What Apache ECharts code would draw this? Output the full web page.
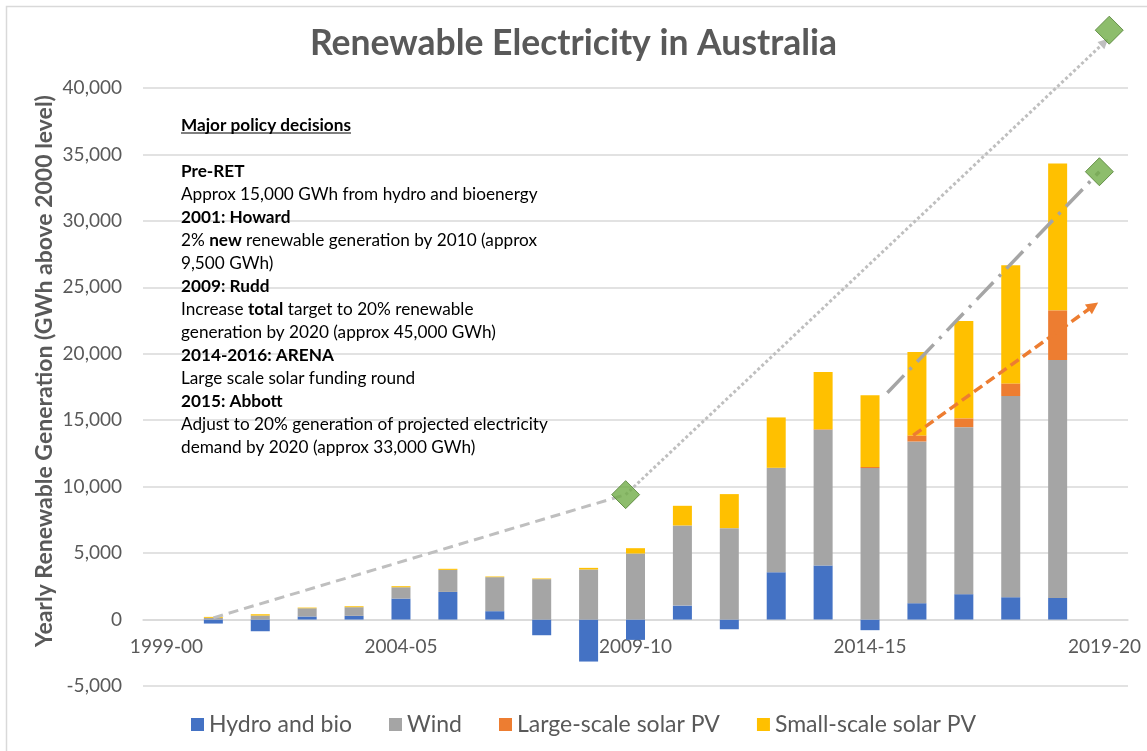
<!DOCTYPE html>
<html>
<head>
<meta charset="utf-8">
<title>Renewable Electricity in Australia</title>
<script src="https://cdn.jsdelivr.net/npm/echarts@6/dist/echarts.min.js"></script>
<style>
  html, body { margin: 0; padding: 0; background: #ffffff; }
  #chart { width: 1147px; height: 751px; }
</style>
</head>
<body>
<div id="chart"></div>
<script>
// Financial years on the category axis
const years = ['1999-00', '2000-01', '2001-02', '2002-03', '2003-04', '2004-05', '2005-06',
  '2006-07', '2007-08', '2008-09', '2009-10', '2010-11', '2011-12', '2012-13', '2013-14',
  '2014-15', '2015-16', '2016-17', '2017-18', '2018-19', '2019-20'];

// Generation above the 2000 level, GWh
const hydroBio   = [0, -300, -880, 230, 280, 1580, 2080, 630, -1180, -3160, -1530, 1050, -730, 3560, 4070, -800, 1230, 1910, 1680, 1630, null];
const wind       = [0, 130, 300, 620, 650, 850, 1660, 2560, 3040, 3770, 4970, 6030, 6880, 7860, 10210, 11400, 12170, 12570, 15140, 17900, null];
const largeSolar = [0, 0, 0, 0, 0, 0, 0, 0, 0, 0, 0, 0, 0, 0, 40, 80, 455, 660, 950, 3740, null];
const smallSolar = [0, 70, 100, 50, 70, 80, 80, 50, 50, 120, 400, 1480, 2560, 3790, 4300, 5390, 6275, 7320, 8890, 11040, null];

// Value axis ticks
const yMin = -5000, yMax = 40000, yStep = 5000;

// Policy targets: position along the year axis (0 = 1999-00) and level in GWh
const targetPos = [9.79, 20.10, 19.89];
const targetGWh = [9400, 44350, 33700];

// Target trajectories: [fromPos, fromGWh, toPos, toGWh]
const howardPath = [1.0, 130, 9.79, 9400];
const ruddPath   = [9.79, 9400, 20.0, 43450];
const abbottPath = [15.37, 17070, 19.89, 33700];
const arenaPath  = [15.92, 13855, 19.76, 23600];

// Policy notes (rich text: b = bold, u = underlined heading)
const notes = [
  '{u|Major policy decisions}',
  ' ',
  '{b|Pre-RET}',
  'Approx 15,000 GWh from hydro and bioenergy',
  '{b|2001: Howard}',
  '2% {b|new} renewable generation by 2010 (approx',
  '9,500 GWh)',
  '{b|2009: Rudd}',
  'Increase {b|total} target to 20% renewable',
  'generation by 2020 (approx 45,000 GWh)',
  '{b|2014-2016: ARENA}',
  'Large scale solar funding round',
  '{b|2015: Abbott}',
  'Adjust to 20% generation of projected electricity',
  'demand by 2020 (approx 33,000 GWh)'
];

const FONT = 'Lato, "Open Sans", sans-serif';
const GREY_TEXT = '#595959';
const GRID_LINE = '#D9D9D9';
const W = 1147, H = 751;
const GRID_LEFT = 143, GRID_RIGHT = 19, GRID_TOP = 88, GRID_BOTTOM = 65;
const NOTE_SIZE = 17.2, NOTE_LH = 23, NOTE_X = 181, NOTE_Y = 113.5;

// Overlay grid for the target lines: same pixel scale, one step taller so the
// top target can sit above the last gridline.
const overlayMax = yMax + yStep;
const stepPx = (H - GRID_TOP - GRID_BOTTOM) / ((yMax - yMin) / yStep);
const overlayTop = GRID_TOP - stepPx * ((overlayMax - yMax) / yStep);
// Category axis sits on the zero line
const zeroLift = stepPx * (0 - yMin) / yStep;

function headingWidth() {
  const ctx = document.createElement('canvas').getContext('2d');
  ctx.font = 'bold ' + NOTE_SIZE + 'px ' + FONT;
  return ctx.measureText('Major policy decisions').width;
}

function pathSeries(p, lineStyle, arrow) {
  return {
    type: 'line',
    xAxisIndex: 1,
    yAxisIndex: 1,
    data: [],
    silent: true,
    markLine: {
      silent: true,
      animation: false,
      z: 3,
      symbol: ['none', arrow ? 'triangle' : 'none'],
      symbolSize: arrow || 0,
      label: { show: false },
      emphasis: { disabled: true },
      lineStyle: lineStyle,
      data: [[{ coord: [p[0], p[1]] }, { coord: [p[2], p[3]] }]]
    }
  };
}

function barSeries(name, values, color) {
  return {
    name: name,
    type: 'bar',
    stack: 'generation',
    barWidth: 19,
    xAxisIndex: 0,
    yAxisIndex: 0,
    itemStyle: { color: color },
    emphasis: { disabled: true },
    data: values
  };
}

const chart = echarts.init(document.getElementById('chart'), null, { renderer: 'canvas' });

const option = {
  animation: false,
  backgroundColor: '#ffffff',
  title: {
    text: 'Renewable Electricity in Australia',
    left: 'center',
    top: 21,
    textStyle: { fontFamily: FONT, fontWeight: 'bold', fontSize: 35.5, color: GREY_TEXT }
  },
  legend: {
    data: ['Hydro and bio', 'Wind', 'Large-scale solar PV', 'Small-scale solar PV'],
    left: 186,
    top: 708,
    icon: 'rect',
    itemWidth: 13,
    itemHeight: 13,
    itemGap: 37,
    textStyle: { fontFamily: FONT, fontSize: 23, color: GREY_TEXT },
    selectedMode: false
  },
  grid: [
    { left: GRID_LEFT, right: GRID_RIGHT, top: GRID_TOP, bottom: GRID_BOTTOM, containLabel: false },
    { left: GRID_LEFT, right: GRID_RIGHT, top: overlayTop, bottom: GRID_BOTTOM, containLabel: false }
  ],
  xAxis: [
    {
      type: 'category',
      gridIndex: 0,
      data: years,
      boundaryGap: true,
      offset: -zeroLift,
      axisTick: { show: false },
      axisLine: { onZero: false, lineStyle: { color: GRID_LINE, width: 1.5 } },
      axisLabel: { interval: 4, margin: 18, color: GREY_TEXT, fontFamily: FONT, fontSize: 19 },
      splitLine: { show: false }
    },
    { type: 'value', gridIndex: 1, min: -0.5, max: years.length - 0.5, show: false }
  ],
  yAxis: [
    {
      type: 'value',
      gridIndex: 0,
      min: yMin,
      max: yMax,
      interval: yStep,
      axisLine: { show: false },
      axisTick: { show: false },
      axisLabel: { margin: 21, color: GREY_TEXT, fontFamily: FONT, fontSize: 19 },
      splitLine: { lineStyle: { color: GRID_LINE, width: 1.5 } }
    },
    { type: 'value', gridIndex: 1, min: yMin, max: overlayMax, show: false }
  ],
  series: [
    barSeries('Hydro and bio', hydroBio, '#4472C4'),
    barSeries('Wind', wind, '#A5A5A5'),
    barSeries('Large-scale solar PV', largeSolar, '#ED7D31'),
    barSeries('Small-scale solar PV', smallSolar, '#FFC000'),
    pathSeries(howardPath, { color: '#BFBFBF', width: 3, type: [10, 6] }, 0),
    pathSeries(ruddPath, { color: '#BFBFBF', width: 3, type: [3, 2.5] }, [10, 10]),
    pathSeries(abbottPath, { color: '#A5A5A5', width: 3.5, type: [24, 8, 3, 8] }, 0),
    pathSeries(arenaPath, { color: '#ED7D31', width: 3.5, type: [10, 5] }, [12, 12]),
    {
      type: 'scatter',
      xAxisIndex: 1,
      yAxisIndex: 1,
      symbol: 'diamond',
      symbolSize: 28,
      clip: false,
      silent: true,
      z: 6,
      itemStyle: { color: '#70AD47', borderColor: '#507E32', borderWidth: 1 },
      data: targetPos.map((x, i) => [x, targetGWh[i]])
    }
  ],
  graphic: [
    {
      type: 'rect',
      silent: true,
      shape: { x: 6.5, y: 6.5, width: W + 20, height: H + 20 },
      style: { fill: 'none', stroke: GRID_LINE, lineWidth: 1.5 }
    },
    {
      type: 'text',
      silent: true,
      rotation: Math.PI / 2,
      x: 45,
      y: 371,
      style: {
        text: 'Yearly Renewable Generation (GWh above 2000 level)',
        fontFamily: FONT,
        fontWeight: 'bold',
        fontSize: 23,
        fill: GREY_TEXT,
        align: 'center',
        verticalAlign: 'middle'
      }
    },
    {
      type: 'text',
      silent: true,
      x: NOTE_X,
      y: NOTE_Y,
      z: 10,
      style: {
        text: notes.join('\n'),
        fontFamily: FONT,
        fontSize: NOTE_SIZE,
        lineHeight: NOTE_LH,
        fill: '#000000',
        align: 'left',
        verticalAlign: 'top',
        rich: {
          b: { fontFamily: FONT, fontSize: NOTE_SIZE, fontWeight: 'bold', lineHeight: NOTE_LH, fill: '#000000' },
          u: { fontFamily: FONT, fontSize: NOTE_SIZE, fontWeight: 'bold', lineHeight: NOTE_LH, fill: '#000000' }
        }
      }
    },
    {
      type: 'line',
      silent: true,
      z: 10,
      shape: { x1: NOTE_X, y1: NOTE_Y + NOTE_LH / 2 + 8, x2: NOTE_X + headingWidth(), y2: NOTE_Y + NOTE_LH / 2 + 8 },
      style: { stroke: '#000000', lineWidth: 1 }
    }
  ]
};

chart.setOption(option);
</script>
</body>
</html>
